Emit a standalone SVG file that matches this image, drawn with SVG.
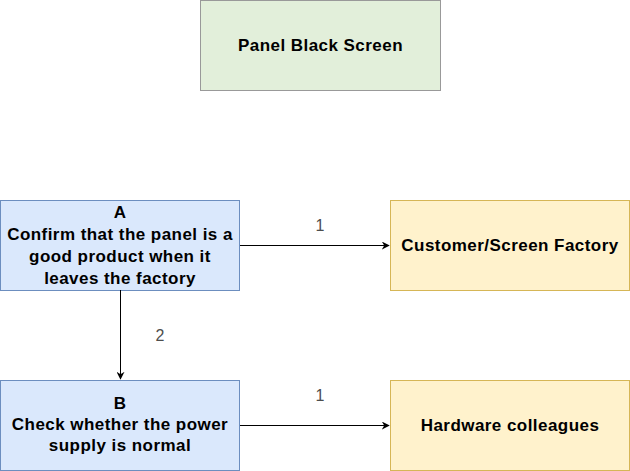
<svg xmlns="http://www.w3.org/2000/svg" width="630" height="471" viewBox="0 0 630 471">
<defs>
<marker id="arr" viewBox="0 0 10 10" refX="9" refY="5" markerWidth="8" markerHeight="8" markerUnits="userSpaceOnUse" orient="auto">
<path d="M0,0 L10,5 L0,10 L3,5 Z" fill="#000"/>
</marker>
</defs>
<style>
text{font-family:"Liberation Sans",Arial,sans-serif;font-size:16px;text-anchor:middle}
.b{font-weight:bold;fill:#000;font-size:17px;letter-spacing:0.45px}
.lbl{fill:#4d4d4d}
.g{fill:#e2efda;stroke:#999999}
.bl{fill:#dae8fc;stroke:#6c8ebf}
.y{fill:#fff2cc;stroke:#d6b656}
.e{stroke:#000;fill:none;stroke-width:1;marker-end:url(#arr)}
</style>
<g id="panel"><rect class="g" x="200.5" y="0.5" width="240" height="90"/><text class="b" x="320.5" y="51">Panel Black Screen</text></g>
<g id="nodeA"><rect class="bl" x="0.5" y="200.5" width="239" height="90"/>
<text class="b" x="120" y="218">A</text><text class="b" x="120" y="240">Confirm that the panel is a</text><text class="b" x="120" y="262">good product when it</text><text class="b" x="120" y="284">leaves the factory</text></g>
<g id="customer"><rect class="y" x="390.5" y="200.5" width="239" height="90"/><text class="b" x="510" y="251">Customer/Screen Factory</text></g>
<g id="nodeB"><rect class="bl" x="0.5" y="380.5" width="239" height="90"/>
<text class="b" x="120" y="409">B</text><text class="b" x="120" y="430">Check whether the power</text><text class="b" x="120" y="451">supply is normal</text></g>
<g id="hardware"><rect class="y" x="390.5" y="380.5" width="239" height="90"/><text class="b" x="510" y="431">Hardware colleagues</text></g>
<g id="connectors">
<path class="e" d="M240,245.5 L389,245.5"/>
<text class="lbl" x="320" y="231">1</text>
<path class="e" d="M120.5,290 L120.5,379"/>
<text class="lbl" x="160" y="341">2</text>
<path class="e" d="M240,425.5 L389,425.5"/>
<text class="lbl" x="320" y="401">1</text>
</g>
</svg>
